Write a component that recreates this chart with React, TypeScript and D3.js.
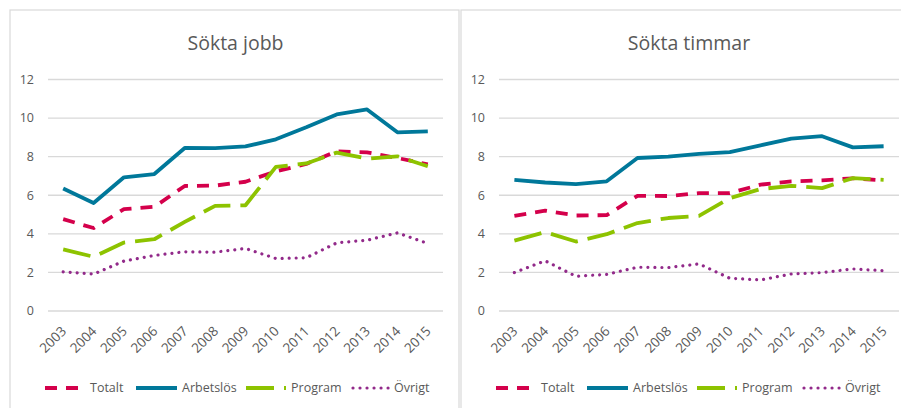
import React from "react";
import * as d3 from "d3";

const years = ["2003","2004","2005","2006","2007","2008","2009","2010","2011","2012","2013","2014","2015"];
const yTicks = [0, 2, 4, 6, 8, 10, 12];
const seriesNames = ["Totalt", "Arbetslös", "Program", "Övrigt"];

// Sökta jobb
const jobbTotalt = [4.76, 4.3, 5.28, 5.4, 6.48, 6.5, 6.7, 7.24, 7.62, 8.28, 8.22, 7.93, 7.6];
const jobbArbetslos = [6.35, 5.6, 6.93, 7.1, 8.45, 8.44, 8.53, 8.9, 9.52, 10.19, 10.45, 9.26, 9.31];
const jobbProgram = [3.19, 2.81, 3.55, 3.72, 4.62, 5.45, 5.48, 7.47, 7.65, 8.21, 7.9, 8.02, 7.5];
const jobbOvrigt = [2.03, 1.91, 2.59, 2.88, 3.07, 3.05, 3.24, 2.72, 2.76, 3.53, 3.67, 4.05, 3.5];

// Sökta timmar
const timTotalt = [4.93, 5.2, 4.95, 4.97, 5.97, 5.96, 6.11, 6.11, 6.55, 6.72, 6.77, 6.88, 6.77];
const timArbetslos = [6.8, 6.66, 6.58, 6.72, 7.93, 8.0, 8.14, 8.24, 8.59, 8.94, 9.06, 8.48, 8.54];
const timProgram = [3.65, 4.09, 3.6, 3.98, 4.56, 4.82, 4.93, 5.85, 6.32, 6.49, 6.37, 6.89, 6.8];
const timOvrigt = [1.99, 2.6, 1.8, 1.9, 2.27, 2.25, 2.44, 1.7, 1.61, 1.92, 1.99, 2.18, 2.09];

const titles = ["Sökta jobb", "Sökta timmar"];

const styles = [
  { color: "#D4004B", dash: "12 9", cap: "butt", width: 3.8 },
  { color: "#00789A", dash: "", cap: "butt", width: 3.8 },
  { color: "#8DC300", dash: "28 10", cap: "butt", width: 3.8 },
  { color: "#922A8A", dash: "0.01 7", cap: "round", width: 3.2 },
];

const FONT = "'Open Sans', sans-serif";
const TXT = "#595959";

function Panel({ frameX, frameW, plotX0, plotX1, title, data }) {
  const x = d3.scaleBand().domain(years).range([plotX0, plotX1]).padding(0);
  const y = d3.scaleLinear().domain([0, 12]).range([311, 79.5]);
  const line = d3
    .line<number>()
    .x((_, i) => (x(years[i]) as number) + x.bandwidth() / 2)
    .y((d) => y(d));
  const legendOffsets = [-3, 88, 198, 305];
  const legendLens = [40, 41, 40, 36];
  return (
    <g>
      <rect x={frameX} y={10} width={frameW} height={420} fill="#fff" stroke="#d9d9d9" strokeWidth={1.2} />
      <text x={(plotX0 + plotX1) / 2 - 10} y={50} textAnchor="middle" fontFamily={FONT} fontSize={19.5} fill={TXT}>
        {title}
      </text>
      {yTicks.map((t) => (
        <g key={t}>
          <line x1={plotX0} x2={plotX1} y1={y(t)} y2={y(t)} stroke="#d9d9d9" strokeWidth={1.3} />
          <text x={plotX0 - 14} y={y(t)} dy="0.35em" textAnchor="end" fontFamily={FONT} fontSize={12.5} fill={TXT}>
            {t}
          </text>
        </g>
      ))}
      {years.map((yr) => {
        const cx = (x(yr) as number) + x.bandwidth() / 2;
        return (
          <text
            key={yr}
            transform={`translate(${cx + 4},${332}) rotate(-45)`}
            textAnchor="end"
            fontFamily={FONT}
            fontSize={13.5}
            fill={TXT}
          >
            {yr}
          </text>
        );
      })}
      {data.map((vals, i) => (
        <path
          key={i}
          d={line(vals) as string}
          fill="none"
          stroke={styles[i].color}
          strokeWidth={styles[i].width}
          strokeDasharray={styles[i].dash}
          strokeLinecap={styles[i].cap}
          strokeLinejoin="round"
        />
      ))}
      {seriesNames.map((name, i) => {
        const lx = plotX0 + legendOffsets[i];
        return (
          <g key={name}>
            <line
              x1={lx}
              x2={lx + legendLens[i]}
              y1={388}
              y2={388}
              stroke={styles[i].color}
              strokeWidth={styles[i].width}
              strokeDasharray={styles[i].dash}
              strokeLinecap={styles[i].cap}
            />
            <text x={lx + legendLens[i] + 5} y={388} dy="0.35em" fontFamily={FONT} fontSize={12.5} fill={TXT}>
              {name}
            </text>
          </g>
        );
      })}
    </g>
  );
}

export default function App() {
  return (
    <svg
      width={901}
      height={408}
      style={{ position: "absolute", left: 0, top: 0, display: "block", background: "#fff" }}
    >
      <rect x={0} y={0} width={901} height={408} fill="#fff" />
      <Panel
        frameX={10}
        frameW={449}
        plotX0={48}
        plotX1={443}
        title={titles[0]}
        data={[jobbTotalt, jobbArbetslos, jobbProgram, jobbOvrigt]}
      />
      <Panel
        frameX={461}
        frameW={460}
        plotX0={499}
        plotX1={899}
        title={titles[1]}
        data={[timTotalt, timArbetslos, timProgram, timOvrigt]}
      />
    </svg>
  );
}
